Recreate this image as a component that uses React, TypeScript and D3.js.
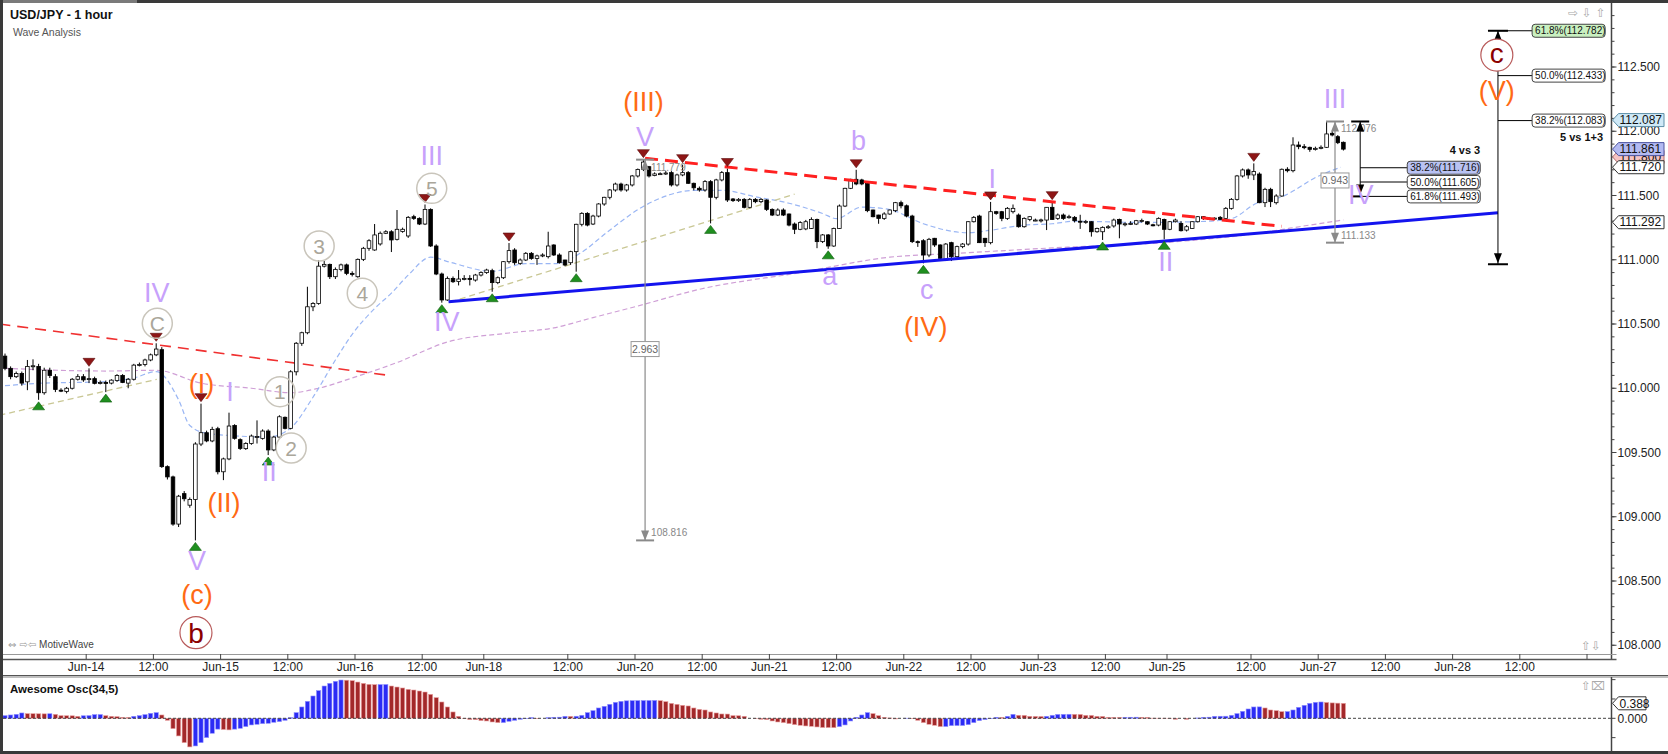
import React from 'react';
import * as d3 from 'd3';

type Candle = [number, number, number, number]; // open, high, low, close

// hourly candles, Jun-13 10:00 .. Jun-16 close
const week1: Candle[] = [
  [110.25, 110.27, 110.14, 110.155], [110.155, 110.17, 110.07, 110.09], [110.09, 110.13, 110.08, 110.115],
  [110.115, 110.13, 110.02, 110.04], [110.05, 110.22, 109.985, 110.17], [110.17, 110.225, 110.14, 110.175],
  [110.17, 110.19, 109.91, 109.965], [109.965, 110.16, 109.95, 110.14], [110.14, 110.16, 110.08, 110.1],
  [110.09, 110.11, 109.97, 109.99], [109.985, 110.0, 109.97, 109.98], [109.975, 110.01, 109.96, 110.0],
  [110.0, 110.08, 109.99, 110.07], [110.07, 110.11, 110.06, 110.09], [110.09, 110.11, 110.05, 110.065],
  [110.07, 110.155, 110.04, 110.075], [110.075, 110.09, 110.03, 110.038], [110.04, 110.06, 110.03, 110.045],
  [110.045, 110.06, 109.97, 110.04], [110.04, 110.07, 110.03, 110.063], [110.06, 110.11, 110.05, 110.1],
  [110.1, 110.11, 110.04, 110.045], [110.04, 110.08, 110.0, 110.07], [110.07, 110.19, 110.06, 110.18],
  [110.18, 110.2, 110.17, 110.185], [110.185, 110.23, 110.17, 110.22], [110.22, 110.27, 110.21, 110.26],
  [110.26, 110.35, 110.25, 110.305], [110.3, 110.32, 109.38, 109.39], [109.39, 109.4, 109.29, 109.31],
  [109.31, 109.32, 108.93, 108.943], [108.943, 109.17, 108.92, 109.16], [109.18, 109.2, 109.12, 109.14],
  [109.09, 109.15, 109.07, 109.135], [109.135, 109.58, 108.816, 109.566], [109.566, 109.88, 109.55, 109.654],
  [109.654, 109.67, 109.58, 109.59], [109.59, 109.7, 109.58, 109.68], [109.685, 109.7, 109.33, 109.35],
  [109.35, 109.46, 109.285, 109.45], [109.45, 109.81, 109.44, 109.706], [109.71, 109.72, 109.6, 109.61],
  [109.6, 109.61, 109.52, 109.532], [109.53, 109.58, 109.52, 109.57], [109.57, 109.64, 109.56, 109.628],
  [109.62, 109.75, 109.57, 109.625], [109.61, 109.68, 109.6, 109.667], [109.667, 109.68, 109.48, 109.52],
  [109.52, 109.63, 109.51, 109.62], [109.62, 109.79, 109.61, 109.778], [109.774, 109.78, 109.68, 109.688],
  [109.688, 110.14, 109.68, 110.128], [110.128, 110.36, 110.1, 110.35], [110.35, 110.44, 110.33, 110.432],
  [110.432, 110.79, 110.42, 110.634], [110.634, 110.67, 110.6, 110.66], [110.66, 110.998, 110.65, 110.95],
  [110.95, 110.99, 110.94, 110.964], [110.964, 110.97, 110.85, 110.868], [110.868, 110.94, 110.85, 110.925],
  [110.925, 110.97, 110.91, 110.96], [110.96, 110.97, 110.88, 110.894], [110.894, 110.91, 110.87, 110.889],
  [110.868, 111.01, 110.86, 111.003], [111.003, 111.1, 110.99, 111.089], [111.089, 111.16, 111.07, 111.148],
  [111.076, 111.278, 111.07, 111.193], [111.123, 111.22, 111.11, 111.206], [111.206, 111.23, 111.2, 111.218],
  [111.218, 111.23, 111.06, 111.154], [111.159, 111.387, 111.15, 111.237], [111.22, 111.25, 111.21, 111.237],
  [111.185, 111.34, 111.17, 111.33], [111.335, 111.35, 111.31, 111.322], [111.322, 111.33, 111.27, 111.278],
  [111.278, 111.43, 111.27, 111.392], [111.392, 111.4, 111.1, 111.107], [111.107, 111.12, 110.88, 110.889],
  [110.889, 110.9, 110.666, 110.687], [110.687, 110.87, 110.68, 110.855], [110.855, 110.87, 110.82, 110.829],
  [110.83, 110.92, 110.8, 110.85], [110.85, 110.88, 110.84, 110.855], [110.855, 110.88, 110.8, 110.847],
  [110.842, 110.89, 110.83, 110.881], [110.881, 110.91, 110.87, 110.9],
];

// Jun-18 open .. Jun-23 close
const week2: Candle[] = [
  [110.9, 110.93, 110.89, 110.92], [110.915, 110.93, 110.751, 110.822], [110.822, 110.87, 110.81, 110.86],
  [110.86, 110.99, 110.85, 110.985], [110.985, 111.13, 110.97, 111.071], [111.076, 111.09, 110.96, 110.977],
  [110.972, 111.01, 110.96, 110.998], [110.998, 111.06, 110.99, 111.05], [111.05, 111.06, 111.0, 111.01],
  [111.01, 111.04, 110.96, 111.03], [111.03, 111.05, 111.02, 111.037], [111.024, 111.218, 111.01, 111.107],
  [111.115, 111.12, 111.03, 111.037], [111.037, 111.05, 110.97, 110.977], [110.998, 111.0, 110.95, 110.959],
  [110.977, 111.07, 110.96, 111.063], [111.063, 111.28, 110.907, 111.276], [111.276, 111.37, 111.26, 111.361],
  [111.361, 111.37, 111.26, 111.27], [111.278, 111.35, 111.27, 111.34], [111.34, 111.44, 111.33, 111.434],
  [111.434, 111.49, 111.42, 111.486], [111.486, 111.55, 111.47, 111.543], [111.543, 111.6, 111.53, 111.589],
  [111.589, 111.6, 111.53, 111.543], [111.543, 111.59, 111.53, 111.582], [111.582, 111.66, 111.57, 111.652],
  [111.652, 111.71, 111.64, 111.703], [111.703, 111.779, 111.69, 111.76], [111.724, 111.73, 111.64, 111.652],
  [111.655, 111.68, 111.65, 111.668], [111.668, 111.68, 111.66, 111.67], [111.67, 111.69, 111.66, 111.675],
  [111.678, 111.69, 111.57, 111.582], [111.582, 111.67, 111.57, 111.66], [111.66, 111.74, 111.65, 111.678],
  [111.678, 111.69, 111.59, 111.595], [111.595, 111.6, 111.54, 111.56], [111.556, 111.57, 111.53, 111.543],
  [111.543, 111.62, 111.53, 111.608], [111.608, 111.62, 111.283, 111.486], [111.486, 111.63, 111.47, 111.621],
  [111.621, 111.69, 111.61, 111.678], [111.678, 111.71, 111.45, 111.465], [111.473, 111.48, 111.45, 111.46],
  [111.46, 111.48, 111.45, 111.47], [111.47, 111.48, 111.4, 111.408], [111.408, 111.48, 111.4, 111.47],
  [111.47, 111.48, 111.44, 111.452], [111.452, 111.48, 111.44, 111.47], [111.465, 111.47, 111.38, 111.392],
  [111.392, 111.4, 111.34, 111.348], [111.348, 111.4, 111.34, 111.387], [111.387, 111.4, 111.34, 111.348],
  [111.356, 111.36, 111.26, 111.27], [111.278, 111.29, 111.2, 111.237], [111.237, 111.3, 111.23, 111.289],
  [111.24, 111.31, 111.23, 111.296], [111.244, 111.33, 111.24, 111.314], [111.314, 111.32, 111.09, 111.141],
  [111.141, 111.2, 111.13, 111.193], [111.193, 111.2, 111.085, 111.107], [111.107, 111.25, 111.1, 111.244],
  [111.244, 111.43, 111.24, 111.418], [111.418, 111.56, 111.41, 111.556], [111.556, 111.63, 111.55, 111.626],
  [111.626, 111.7, 111.58, 111.59], [111.621, 111.63, 111.58, 111.59], [111.595, 111.6, 111.37, 111.382],
  [111.387, 111.39, 111.33, 111.335], [111.348, 111.35, 111.28, 111.322], [111.322, 111.37, 111.31, 111.356],
  [111.356, 111.39, 111.35, 111.387], [111.382, 111.45, 111.37, 111.444], [111.444, 111.46, 111.4, 111.42],
  [111.42, 111.43, 111.33, 111.34], [111.34, 111.35, 111.13, 111.141], [111.141, 111.15, 111.1, 111.133],
  [111.148, 111.16, 110.972, 111.037], [111.037, 111.17, 111.02, 111.159], [111.167, 111.17, 111.1, 111.115],
  [111.115, 111.12, 110.99, 111.011], [110.998, 111.13, 110.99, 111.122], [111.133, 111.14, 110.99, 111.024],
  [111.024, 111.11, 111.02, 111.102], [111.102, 111.13, 111.09, 111.122], [111.122, 111.3, 111.11, 111.296],
  [111.296, 111.34, 111.29, 111.33], [111.34, 111.35, 111.13, 111.133], [111.167, 111.17, 111.1, 111.133],
  [111.133, 111.45, 111.12, 111.374], [111.374, 111.38, 111.35, 111.361], [111.374, 111.38, 111.3, 111.322],
  [111.322, 111.41, 111.31, 111.4], [111.374, 111.43, 111.36, 111.4], [111.348, 111.36, 111.25, 111.257],
  [111.257, 111.33, 111.25, 111.322], [111.314, 111.34, 111.3, 111.335], [111.309, 111.32, 111.3, 111.309],
  [111.309, 111.32, 111.29, 111.31], [111.309, 111.41, 111.231, 111.408], [111.408, 111.452, 111.31, 111.314],
  [111.322, 111.36, 111.31, 111.348], [111.348, 111.36, 111.31, 111.322], [111.33, 111.35, 111.32, 111.335],
  [111.33, 111.34, 111.29, 111.304], [111.3, 111.35, 111.24, 111.296], [111.296, 111.31, 111.28, 111.298],
  [111.296, 111.3, 111.18, 111.218], [111.218, 111.25, 111.21, 111.244], [111.218, 111.26, 111.154, 111.252],
  [111.252, 111.27, 111.24, 111.257], [111.263, 111.32, 111.25, 111.309], [111.314, 111.32, 111.167, 111.278],
  [111.278, 111.29, 111.26, 111.28], [111.28, 111.3, 111.27, 111.283], [111.278, 111.31, 111.27, 111.304],
  [111.304, 111.32, 111.29, 111.305], [111.296, 111.3, 111.27, 111.278], [111.272, 111.28, 111.26, 111.27],
  [111.27, 111.33, 111.26, 111.322], [111.314, 111.32, 111.159, 111.237],
];

// Jun-25 open .. Jun-27 05:00
const week3: Candle[] = [
  [111.237, 111.3, 111.23, 111.296], [111.296, 111.32, 111.29, 111.309], [111.283, 111.3, 111.22, 111.226],
  [111.231, 111.27, 111.22, 111.257], [111.244, 111.3, 111.24, 111.296], [111.296, 111.34, 111.29, 111.335],
  [111.335, 111.34, 111.31, 111.322], [111.322, 111.33, 111.31, 111.323], [111.322, 111.33, 111.31, 111.324],
  [111.33, 111.34, 111.31, 111.314], [111.322, 111.41, 111.32, 111.4], [111.4, 111.48, 111.39, 111.47],
  [111.47, 111.66, 111.46, 111.652], [111.652, 111.71, 111.64, 111.699], [111.699, 111.71, 111.63, 111.66],
  [111.66, 111.75, 111.62, 111.686], [111.667, 111.68, 111.44, 111.444], [111.444, 111.56, 111.41, 111.548],
  [111.548, 111.56, 111.41, 111.452], [111.444, 111.51, 111.43, 111.496], [111.496, 111.71, 111.49, 111.704],
  [111.704, 111.72, 111.68, 111.693], [111.693, 111.953, 111.68, 111.893], [111.893, 111.92, 111.86, 111.88],
  [111.88, 111.9, 111.86, 111.875], [111.875, 111.88, 111.84, 111.859], [111.859, 111.88, 111.85, 111.867],
  [111.867, 111.89, 111.86, 111.875], [111.875, 112.076, 111.87, 111.979], [111.984, 112.0, 111.96, 111.971],
  [111.958, 111.97, 111.9, 111.911], [111.914, 111.92, 111.85, 111.861],
];

// Awesome Oscillator (34,5), one value per candle
const aoWeek1 = [
  0.069, 0.086, 0.103, 0.138, 0.121, 0.119, 0.117, 0.115, 0.118, 0.103,
  0.069, 0.067, 0.065, 0.052, 0.066, 0.069, 0.095, 0.097, 0.069, 0.052,
  0.043, 0.026, 0.024, 0.052, 0.069, 0.095, 0.129, 0.146, 0.086, -0.052,
  -0.267, -0.456, -0.629, -0.74, -0.715, -0.629, -0.499, -0.387, -0.28, -0.29,
  -0.3, -0.28, -0.258, -0.215, -0.172, -0.155, -0.138, -0.129, -0.103, -0.086,
  -0.052, 0.017, 0.146, 0.293, 0.439, 0.577, 0.715, 0.835, 0.904, 0.956,
  0.99, 0.985, 0.973, 0.938, 0.904, 0.878, 0.87, 0.872, 0.874, 0.835,
  0.809, 0.784, 0.749, 0.732, 0.706, 0.68, 0.62, 0.534, 0.422, 0.293,
  0.164, 0.052, -0.009, -0.034, -0.036, -0.06,
];
const aoWeek2 = [
  -0.069, -0.095, -0.112, -0.11, -0.078, -0.052, -0.026, -0.009, 0.017, -0.009,
  0.0, 0.017, 0.026, 0.028, 0.052, 0.05, 0.053, 0.078, 0.146, 0.198,
  0.267, 0.31, 0.362, 0.413, 0.439, 0.452, 0.456, 0.458, 0.46, 0.461,
  0.462, 0.456, 0.431, 0.387, 0.362, 0.336, 0.319, 0.267, 0.232, 0.215,
  0.164, 0.138, 0.112, 0.11, 0.069, 0.066, 0.052, 0.0, -0.009, -0.026,
  -0.034, -0.069, -0.095, -0.112, -0.138, -0.164, -0.181, -0.198, -0.207, -0.224,
  -0.238, -0.24, -0.242, -0.215, -0.172, -0.069, 0.026, 0.086, 0.146, 0.121,
  0.069, 0.026, 0.009, -0.017, 0.0, 0.002, -0.009, -0.052, -0.112, -0.155,
  -0.181, -0.215, -0.212, -0.19, -0.188, -0.186, -0.164, -0.112, -0.06, -0.034,
  -0.009, 0.026, 0.024, 0.052, 0.103, 0.078, 0.076, 0.052, 0.05, 0.048,
  0.052, 0.078, 0.1, 0.102, 0.104, 0.102, 0.1, 0.078, 0.076, 0.052,
  0.05, 0.026, 0.025, 0.024, 0.026, 0.027, 0.028, 0.026, 0.024, 0.004,
  0.003, 0.002,
];
const aoWeek3 = [
  0.001, -0.026, 0.0, -0.026, 0.0, 0.009, 0.026, 0.028, 0.052, 0.053,
  0.054, 0.078, 0.121, 0.181, 0.241, 0.293, 0.295, 0.267, 0.215, 0.198,
  0.172, 0.174, 0.215, 0.284, 0.336, 0.387, 0.413, 0.422, 0.41, 0.398,
  0.392, 0.388,
];

// moving averages: [bar, price]
const fastMA = [
  [0, 110.02], [7, 110.04], [17, 110.05], [23, 110.08], [27, 110.13], [31, 109.91], [33, 109.71],
  [36, 109.65], [41, 109.63], [47, 109.62], [51, 109.69], [55, 109.93], [59, 110.22], [62, 110.42],
  [66, 110.62], [69, 110.74], [72, 110.88], [76, 111.02], [79.5, 110.98], [87, 110.91], [93, 110.97],
  [98.5, 110.97], [102.7, 111.05], [107.4, 111.21], [113.4, 111.4], [119, 111.51], [123, 111.54],
  [128, 111.54], [134, 111.49], [140, 111.44], [146, 111.36], [148.5, 111.32], [153, 111.41],
  [158, 111.39], [164, 111.28], [172, 111.21], [176, 111.23], [182, 111.27], [187, 111.28],
  [191, 111.3], [203, 111.29], [215, 111.3], [219, 111.32], [223.5, 111.44], [228, 111.49],
  [234.5, 111.65], [238.5, 111.72],
];
const slowMA = [
  [0, 110.155], [18, 110.134], [27, 110.14], [35, 110.04], [44, 110.0], [51, 109.965], [56, 110.0],
  [62, 110.08], [70, 110.2], [79, 110.36], [90, 110.43], [98, 110.47], [105, 110.55], [113, 110.64],
  [124, 110.77], [142, 110.9], [158, 111.02], [170, 111.05], [186, 111.09], [209, 111.14],
  [221, 111.19], [233, 111.27], [239, 111.31],
];

// trend lines: [bar0, price0, bar1, price1]
const olive = [[-1, 109.79, 27.1, 110.069], [79.5, 110.67, 141, 111.51]];
const redThin = [-1, 110.5, 68, 110.103];
const redThick = [114.3, 111.79, 228, 111.26];
const blueLine = [79.2, 110.674, 266.6, 111.365];

const pivotHighs = [15, 27, 35, 75, 90, 114, 121, 129, 152, 176, 187, 223];
const pivotLows = [6, 18, 34, 47, 78, 87, 102, 126, 147, 164, 196, 207];

const purpleWaves = [
  { i: 27.1, p: 110.75, t: 'IV' }, { i: 40.2, p: 109.973, t: 'I' }, { i: 47.2, p: 109.35, t: 'II' },
  { i: 34.3, p: 108.66, t: 'V' }, { i: 76.2, p: 111.815, t: 'III' }, { i: 78.9, p: 110.52, t: 'IV' },
  { i: 114.3, p: 111.958, t: 'V' }, { i: 152.4, p: 111.93, t: 'b' }, { i: 147.3, p: 110.855, t: 'a' },
  { i: 164.6, p: 110.75, t: 'c' }, { i: 176.3, p: 111.634, t: 'I' }, { i: 207.3, p: 110.985, t: 'II' },
  { i: 237.5, p: 112.256, t: 'III' }, { i: 242.1, p: 111.508, t: 'IV' },
];
const orangeWaves = [
  { i: 35.1, p: 110.025, t: '(I)' }, { i: 39.1, p: 109.097, t: '(II)' }, { i: 34.3, p: 108.383, t: '(c)' },
  { i: 114.0, p: 112.218, t: '(III)' }, { i: 164.4, p: 110.471, t: '(IV)' }, { i: 266.4, p: 112.308, t: '(V)' },
];
const minorWaves = [
  { i: 27.2, p: 110.505, t: 'C' }, { i: 49.1, p: 109.973, t: '1' }, { i: 51.1, p: 109.535, t: '2' },
  { i: 56.1, p: 111.107, t: '3' }, { i: 63.8, p: 110.74, t: '4' }, { i: 76.2, p: 111.556, t: '5' },
];
const primaryWaves = [{ i: 34.1, p: 108.098, t: 'b' }, { i: 266.4, p: 112.593, t: 'c' }];

const measures = [
  { i: 114.3, from: 111.779, to: 108.816, mid: 110.305, label: '2.963' },
  { i: 237.5, from: 112.076, to: 111.133, mid: 111.617, label: '0.943' },
];
const fibRight = { i: 266.6, top: 112.782, bottom: 110.965, labelAt: 272.7,
  levels: [['61.8%', 112.782], ['50.0%', 112.433], ['38.2%', 112.083]] as [string, number][] };
const fibLeft = { i: 242, top: 112.076, bottom: 111.493, labelAt: 250.4,
  levels: [['38.2%', 111.716], ['50.0%', 111.605], ['61.8%', 111.493]] as [string, number][] };

const xTicks: [number, string][] = [
  [15, 'Jun-14'], [27, '12:00'], [39, 'Jun-15'], [51, '12:00'], [63, 'Jun-16'], [75, '12:00'],
  [86, 'Jun-18'], [101, '12:00'], [113, 'Jun-20'], [125, '12:00'], [137, 'Jun-21'], [149, '12:00'],
  [161, 'Jun-22'], [173, '12:00'], [185, 'Jun-23'], [197, '12:00'], [208, 'Jun-25'], [223, '12:00'],
  [235, 'Jun-27'], [247, '12:00'], [259, 'Jun-28'], [271, '12:00'], [283, ''],
];
const priceTicks = [108, 108.5, 109, 109.5, 110, 110.5, 111, 111.5, 112, 112.5];
const priceTags: [number, string, string][] = [
  [112.087, '#cfe9f7', '#5d8fa8'], [111.80, '#f6c4c4', '#b07070'], [111.861, '#b3baf2', '#4c55a0'],
  [111.72, '#ffffff', '#333333'], [111.292, '#ffffff', '#333333'],
];

const FONT = '"Liberation Sans", Arial, Helvetica, sans-serif';
const ICON = '"DejaVu Sans", sans-serif';

export default function App() {
  const candles = [...week1, ...week2, ...week3];
  const ao = [...aoWeek1, ...aoWeek2, ...aoWeek3];

  const x = d3.scaleLinear().domain([0, 283]).range([5, 5 + 5.6 * 283]);
  const y = d3.scaleLinear().domain([108, 112.5]).range([645.25, 67]);
  const yo = d3.scaleLinear().domain([0, 0.388]).range([718.3, 703.3]);

  const ma = d3.line<number[]>().x((d) => x(d[0])).y((d) => y(d[1])).curve(d3.curveMonotoneX);
  const axisX = 1611.5;
  const minor = d3.range(1079, 1131).map((v) => v / 10);

  const seg = (s: number[], props: any, key?: string) => (
    <line key={key} x1={x(s[0])} y1={y(s[1])} x2={x(s[2])} y2={y(s[3])} {...props} />
  );
  const upTri = (cx: number, tip: number, w: number, h: number) =>
    `M${cx - w / 2},${tip + h}L${cx + w / 2},${tip + h}L${cx},${tip}Z`;
  const downTri = (cx: number, tip: number, w: number, h: number) =>
    `M${cx - w / 2},${tip - h}L${cx + w / 2},${tip - h}L${cx},${tip}Z`;
  const labelDy = (t: string) => (/^[ac]$/.test(t) ? '0.26em' : t.startsWith('(') ? '0.3em' : '0.36em');

  const fibBox = (lx: number, py: number, text: string, fill: string, stroke: string, key: string) => (
    <g key={key}>
      <rect x={lx} y={py - 6.5} width={73} height={13} rx={3} fill={fill} stroke={stroke} strokeWidth={1} />
      <text x={lx + 3} y={py + 3.6} fontSize={10} fill="#111" fontFamily={FONT}>{text}</text>
    </g>
  );

  return (
    <svg width={1668} height={754} style={{ position: 'absolute', left: 0, top: 0, background: '#fff' }}
      fontFamily={FONT}>
      <defs>
        <clipPath id="plot"><rect x={3} y={3} width={1608} height={651} /></clipPath>
        <clipPath id="osc"><rect x={3} y={677} width={1608} height={74} /></clipPath>
      </defs>
      <rect x={0} y={0} width={1668} height={754} fill="#fff" />

      {/* frame */}
      <rect x={0} y={0} width={1668} height={3} fill="#3a3a3a" />
      <rect x={0} y={0} width={137} height={3} fill="#7a7a7a" />
      <rect x={0} y={0} width={3} height={754} fill="#3a3a3a" />
      <rect x={0} y={751} width={1668} height={3} fill="#3a3a3a" />

      <text x={10} y={19} fontSize={12.5} fontWeight="bold" fill="#111">USD/JPY - 1 hour</text>
      <text x={13} y={36} fontSize={10.5} fill="#555">Wave Analysis</text>

      <g clipPath="url(#plot)">
        {/* moving averages */}
        <path d={ma(slowMA) ?? ''} fill="none" stroke="#cf9fd6" strokeWidth={1.2} strokeDasharray="5,3" />
        <path d={ma(fastMA) ?? ''} fill="none" stroke="#9ab6f4" strokeWidth={1.2} strokeDasharray="5,3" />
        {olive.map((s, k) => seg(s, { stroke: '#c9c794', strokeWidth: 1.3, strokeDasharray: '6,4' }, 'o' + k))}
        {seg(redThin, { stroke: '#f03030', strokeWidth: 1.6, strokeDasharray: '11,7' })}

        {/* candles */}
        {candles.map(([o, h, l, c], i) => {
          const cx = x(i);
          const top = y(Math.max(o, c));
          const bh = Math.max(1, Math.abs(y(o) - y(c)));
          return (
            <g key={i}>
              <line x1={cx} x2={cx} y1={y(h)} y2={y(l)} stroke="#000" strokeWidth={1} />
              <rect x={cx - 1.8} y={top} width={3.6} height={bh} fill={c >= o ? '#fff' : '#000'}
                stroke="#000" strokeWidth={0.8} />
            </g>
          );
        })}

        {seg(redThick, { stroke: '#ff2020', strokeWidth: 3, strokeDasharray: '13,7' })}
        {seg(blueLine, { stroke: '#1414ee', strokeWidth: 3 })}

        {/* swing markers */}
        {pivotHighs.map((i) => (
          <path key={'h' + i} d={downTri(x(i), y(candles[i][1]) - 2, 12, 8)} fill="#8e1616" stroke="#5a0b0b" strokeWidth={0.6} />
        ))}
        {pivotLows.map((i) => (
          <path key={'l' + i} d={upTri(x(i), y(candles[i][2]) + 2, 12, 8)} fill="#1f8f1f" stroke="#0d5a0d" strokeWidth={0.6} />
        ))}

        {/* measurements */}
        {measures.map((m, k) => {
          const mx = x(m.i);
          return (
            <g key={'m' + k} stroke="#8a8a8a">
              <line x1={mx} x2={mx} y1={y(m.from)} y2={y(m.to)} strokeWidth={1.2} />
              <line x1={mx - 9} x2={mx + 9} y1={y(m.from)} y2={y(m.from)} strokeWidth={2} />
              <line x1={mx - 9} x2={mx + 9} y1={y(m.to)} y2={y(m.to)} strokeWidth={2} />
              <path d={upTri(mx, y(m.from), 8, 10)} fill="#8a8a8a" stroke="none" />
              <path d={downTri(mx, y(m.to), 8, 10)} fill="#8a8a8a" stroke="none" />
              <text x={mx + 6} y={y(m.from) + 11} fontSize={10} fill="#888" stroke="none">{m.from.toFixed(3)}</text>
              <text x={mx + 6} y={y(m.to) - 4} fontSize={10} fill="#888" stroke="none">{m.to.toFixed(3)}</text>
              <rect x={mx - 14} y={y(m.mid) - 7.5} width={28} height={15} fill="#fff" stroke="#999" strokeWidth={1} />
              <text x={mx} y={y(m.mid) + 3.8} fontSize={10.5} textAnchor="middle" fill="#666" stroke="none">{m.label}</text>
            </g>
          );
        })}

        {/* fibonacci: 4 vs 3 */}
        <g stroke="#000">
          <line x1={x(fibLeft.i)} x2={x(fibLeft.i)} y1={y(fibLeft.top)} y2={y(fibLeft.bottom)} strokeWidth={1} />
          <line x1={x(fibLeft.i) - 9} x2={x(fibLeft.i) + 9} y1={y(fibLeft.top)} y2={y(fibLeft.top)} strokeWidth={2} />
          <line x1={x(fibLeft.i) - 9} x2={x(fibLeft.i) + 2} y1={y(fibLeft.bottom)} y2={y(fibLeft.bottom)} strokeWidth={2} />
          <path d={upTri(x(fibLeft.i), y(fibLeft.top), 8, 10)} fill="#000" stroke="none" />
          <path d={downTri(x(fibLeft.i), y(fibLeft.bottom) - 2, 8, 10)} fill="#000" stroke="none" />
          {fibLeft.levels.map(([, v]) => (
            <line key={v} x1={x(fibLeft.i)} x2={x(fibLeft.labelAt)} y1={y(v)} y2={y(v)} strokeWidth={1} />
          ))}
        </g>
        {fibLeft.levels.map(([pct, v], k) =>
          fibBox(x(fibLeft.labelAt), y(v), `${pct}(${v.toFixed(3)})`, k === 0 ? '#b9c2f3' : '#fff', '#444', 'fl' + k))}
        <text x={x(fibLeft.labelAt) + 73} y={y(fibLeft.levels[0][1]) - 13.5} fontSize={11} fontWeight="bold"
          textAnchor="end" fill="#111">4 vs 3</text>

        {/* fibonacci: 5 vs 1+3 */}
        <g stroke="#000">
          <line x1={x(fibRight.i)} x2={x(fibRight.i)} y1={y(fibRight.top)} y2={y(fibRight.bottom)} strokeWidth={1} />
          <line x1={x(fibRight.i) - 10} x2={x(fibRight.i) + 10} y1={y(fibRight.top)} y2={y(fibRight.top)} strokeWidth={2} />
          <line x1={x(fibRight.i) - 10} x2={x(fibRight.i) + 10} y1={y(fibRight.bottom)} y2={y(fibRight.bottom)} strokeWidth={2} />
          <path d={upTri(x(fibRight.i), y(fibRight.top), 8, 10)} fill="#000" stroke="none" />
          <path d={downTri(x(fibRight.i), y(fibRight.bottom) - 1, 8, 10)} fill="#000" stroke="none" />
          {fibRight.levels.map(([, v]) => (
            <line key={v} x1={x(fibRight.i)} x2={x(fibRight.labelAt)} y1={y(v)} y2={y(v)} strokeWidth={1} />
          ))}
        </g>
        {fibRight.levels.map(([pct, v], k) =>
          fibBox(x(fibRight.labelAt), y(v), `${pct}(${v.toFixed(3)})`, k === 0 ? '#c9f0c0' : '#fff', '#444', 'fr' + k))}
        <text x={x(fibRight.labelAt) + 71} y={y(fibRight.levels[2][1]) + 20.5} fontSize={11} fontWeight="bold"
          textAnchor="end" fill="#111">5 vs 1+3</text>

        {/* wave labels */}
        {minorWaves.map((w, k) => (
          <g key={'mw' + k}>
            <circle cx={x(w.i)} cy={y(w.p)} r={15} fill="none" stroke="#c9c5bb" strokeWidth={1.5} />
            <text x={x(w.i)} y={y(w.p)} dy="0.36em" fontSize={21} textAnchor="middle" fill="#aaa69a">{w.t}</text>
          </g>
        ))}
        {primaryWaves.map((w, k) => (
          <g key={'pw' + k}>
            <circle cx={x(w.i)} cy={y(w.p)} r={16} fill="#fff" stroke="#b85a5a" strokeWidth={1.2} />
            <text x={x(w.i)} y={y(w.p)} dy={w.t === 'c' ? '0.27em' : '0.36em'} fontSize={28} textAnchor="middle"
              fill="#8b0000">{w.t}</text>
          </g>
        ))}
        {purpleWaves.map((w, k) => (
          <text key={'pu' + k} x={x(w.i)} y={y(w.p)} dy={labelDy(w.t)} fontSize={27} textAnchor="middle"
            fill="#c7a1fb">{w.t}</text>
        ))}
        {orangeWaves.map((w, k) => (
          <text key={'or' + k} x={x(w.i)} y={y(w.p)} dy={labelDy(w.t)} fontSize={27} textAnchor="middle"
            fill="#ff6a14">{w.t}</text>
        ))}
      </g>

      <text x={8} y={648} fontSize={10} fill="#444"><tspan fontFamily={ICON} fill="#999">⇔ ⇨⇦</tspan> MotiveWave</text>
      <text x={1568} y={17} fontSize={12} fontFamily={ICON} fill="#aaa">⇨ ⇩ ⇧</text>
      <text x={1581} y={650} fontSize={12} fontFamily={ICON} fill="#aaa">⇧⇩</text>

      {/* price axis */}
      <line x1={axisX} x2={axisX} y1={3} y2={659} stroke="#444" strokeWidth={1.5} />
      {minor.filter((v) => y(v) > 4 && y(v) < 653).map((v) => (
        <line key={v} x1={axisX} x2={axisX + 3} y1={y(v)} y2={y(v)} stroke="#444" strokeWidth={1} />
      ))}
      {priceTicks.map((v) => (
        <g key={v}>
          <line x1={axisX} x2={axisX + 5} y1={y(v)} y2={y(v)} stroke="#444" strokeWidth={1} />
          <text x={axisX + 6} y={y(v) + 4} fontSize={12} fill="#222">{d3.format('.3f')(v)}</text>
        </g>
      ))}
      {priceTags.map(([v, fill, stroke]) => {
        const ty = y(v);
        return (
          <g key={v}>
            <path d={`M${axisX + 1},${ty}L${axisX + 7},${ty - 6.5}L1664,${ty - 6.5}L1664,${ty + 6.5}L${axisX + 7},${ty + 6.5}Z`}
              fill={fill} stroke={stroke} strokeWidth={1} />
            <text x={axisX + 8} y={ty + 4.2} fontSize={12} fill="#111">{v.toFixed(3)}</text>
          </g>
        );
      })}

      {/* time axis */}
      <line x1={3} x2={axisX + 5} y1={654.5} y2={654.5} stroke="#999" strokeWidth={1} />
      <line x1={3} x2={axisX + 5} y1={659.5} y2={659.5} stroke="#555" strokeWidth={1.5} />
      {xTicks.map(([i, t]) => (
        <g key={i}>
          <line x1={x(i) - 2.8} x2={x(i) - 2.8} y1={654} y2={659} stroke="#444" strokeWidth={1} />
          <text x={x(i) - 2.8} y={671} fontSize={12} textAnchor="middle" fill="#222">{t}</text>
        </g>
      ))}

      {/* oscillator panel */}
      <line x1={3} x2={1668} y1={675.5} y2={675.5} stroke="#555" strokeWidth={1} />
      <line x1={3} x2={1668} y1={677} y2={677} stroke="#aaa" strokeWidth={1.5} />
      <text x={10} y={693} fontSize={11.5} fontWeight="bold" fill="#111">Awesome Osc(34,5)</text>
      <g clipPath="url(#osc)">
        {ao.map((v, i) => {
          const up = i === 0 || v >= ao[i - 1];
          const y0 = yo(0);
          const y1 = yo(v);
          return (
            <rect key={i} x={x(i) - 2.1} y={Math.min(y0, y1)} width={4.2} height={Math.abs(y1 - y0)}
              fill={up ? '#2b2bf5' : '#a3282a'} stroke={up ? '#9090ff' : '#e9a1a1'} strokeWidth={0.6} />
          );
        })}
      </g>
      <line x1={3} x2={axisX} y1={yo(0)} y2={yo(0)} stroke="#444" strokeWidth={1} strokeDasharray="3,2" />
      <text x={1581} y={690} fontSize={12} fontFamily={ICON} fill="#aaa">⇧⌧</text>
      <line x1={axisX} x2={axisX} y1={677} y2={751} stroke="#444" strokeWidth={1.5} />
      {[-0.5, 0, 0.5, 1].map((v) => (
        <line key={v} x1={axisX} x2={axisX + 4} y1={yo(v)} y2={yo(v)} stroke="#444" strokeWidth={1} />
      ))}
      <path d={`M${axisX + 1},${yo(0.388)}L${axisX + 7},${yo(0.388) - 6.5}L1646,${yo(0.388) - 6.5}L1646,${yo(0.388) + 6.5}L${axisX + 7},${yo(0.388) + 6.5}Z`}
        fill="#fff" stroke="#333" strokeWidth={1} />
      <text x={axisX + 8} y={yo(0.388) + 4.2} fontSize={12} fill="#111">0.388</text>
      <text x={axisX + 6} y={yo(0) + 5} fontSize={12} fill="#222">0.000</text>
    </svg>
  );
}
